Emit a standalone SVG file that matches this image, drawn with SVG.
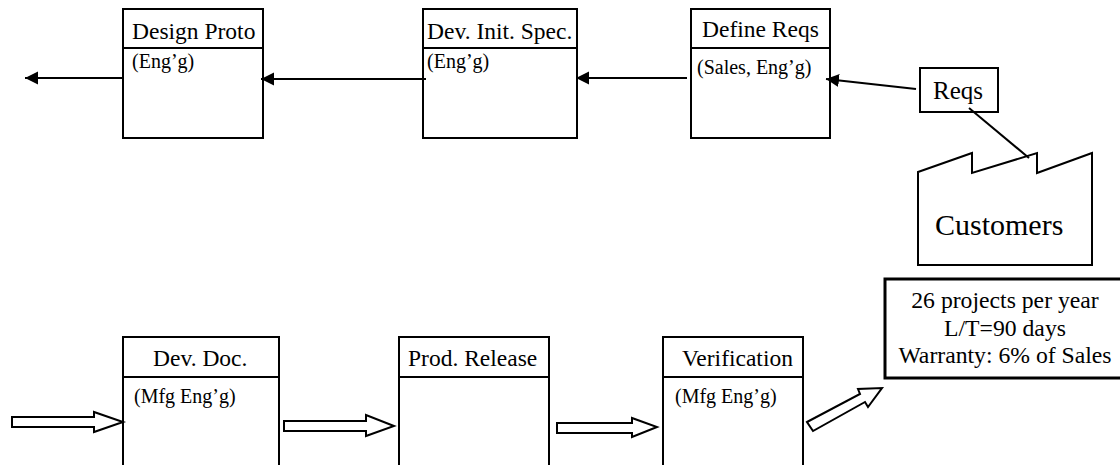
<svg xmlns="http://www.w3.org/2000/svg" width="1120" height="465" viewBox="0 0 1120 465">
<style>
text{font-family:"Liberation Serif","Times New Roman",serif;fill:#000}
.t{font-size:23.5px}.s{font-size:20px}.m{font-size:23.7px;text-anchor:middle}
.b{fill:#fff;stroke:#000;stroke-width:2}
.l{fill:none;stroke:#000;stroke-width:2}
.o{fill:#fff;stroke:#000;stroke-width:2}
</style>
<defs><marker id="a" markerUnits="userSpaceOnUse" markerWidth="14" markerHeight="14" refX="13" refY="6.5" orient="auto"><path d="M0 0L13 6.5L0 13Z" fill="#000"/></marker></defs>
<g id="design-proto"><rect class="b" x="123" y="9" width="140" height="129"/><path class="l" d="M123 48H263"/><text class="t" x="132" y="39">Design Proto</text><text class="s" x="132" y="68">(Eng’g)</text></g>
<g id="dev-init-spec"><rect class="b" x="423" y="9" width="154" height="129"/><path class="l" d="M423 48H577"/><text class="t" x="427" y="39">Dev. Init. Spec.</text><text class="s" x="427" y="68">(Eng’g)</text></g>
<g id="define-reqs"><rect class="b" x="691" y="9" width="139" height="129"/><path class="l" d="M691 48H830"/><text class="t" x="702" y="37">Define Reqs</text><text class="s" x="697" y="74">(Sales, Eng’g)</text></g>
<g id="reqs"><rect class="b" x="920" y="68" width="78" height="44"/><text x="933" y="99" font-size="25">Reqs</text></g>
<g id="customers"><path class="b" d="M918 172L972 153V173L1037 153V173L1092 153V265H918Z"/><text x="935" y="235" font-size="30">Customers</text></g>
<g id="dev-doc"><path class="b" d="M123 465V337H279V465"/><path class="l" d="M123 377H279"/><text class="t" x="153" y="366">Dev. Doc.</text><text class="s" x="134" y="403">(Mfg Eng’g)</text></g>
<g id="prod-release"><path class="b" d="M399 465V337H549V465"/><path class="l" d="M399 377H549"/><text class="t" x="408" y="366">Prod. Release</text></g>
<g id="verification"><path class="b" d="M663 465V337H803V465"/><path class="l" d="M663 377H803"/><text class="t" x="682" y="366">Verification</text><text class="s" x="675" y="403">(Mfg Eng’g)</text></g>
<g id="stats"><rect x="885" y="279" width="240" height="99" fill="#fff" stroke="#000" stroke-width="3"/><text class="m" x="1005" y="308">26 projects per year</text><text class="m" x="1005" y="336">L/T=90 days</text><text class="m" x="1005" y="363">Warranty: 6% of Sales</text></g>
<g id="connectors">
<path class="l" marker-end="url(#a)" d="M123 78H25"/>
<path class="l" marker-end="url(#a)" d="M426 79H261"/>
<path class="l" marker-end="url(#a)" d="M687 78H576"/>
<path class="l" marker-end="url(#a)" d="M916 89L826 79"/>
<path class="l" d="M969 108L1029 158"/>
<path class="o" d="M12 417H94V412L123 422L94 432V427H12Z"/>
<path class="o" d="M284 421H366V415L394 426L366 436V431H284Z"/>
<path class="o" d="M557 423H632V418L657 427L632 437V433H557Z"/>
<path class="o" d="M807 422L860 394L858 389L882 388L868 407L865 402L813 431Z"/>
</g>
</svg>
